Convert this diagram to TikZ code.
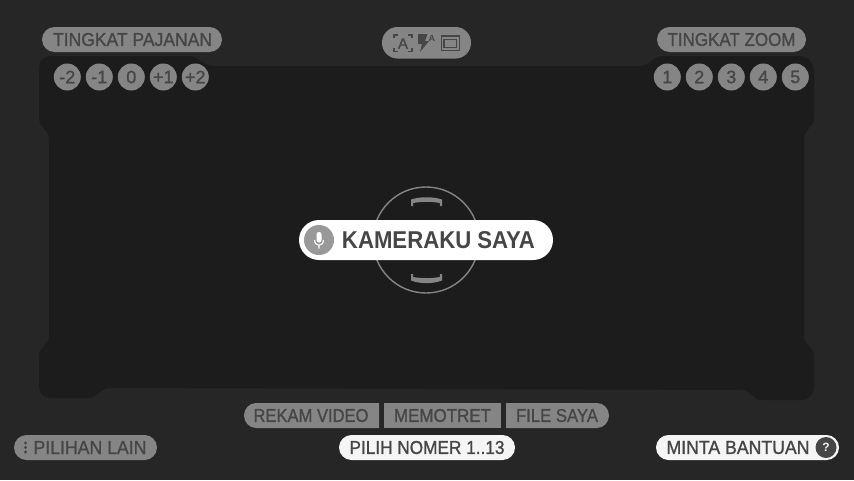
\documentclass[tikz,border=0pt]{standalone}
\usepackage{graphicx}
\usepackage{fontspec}
\setmainfont{Liberation Sans}[FakeBold=1.2]
\newfontfamily\heavyfont{Liberation Sans Bold}
\definecolor{bgc}{HTML}{262626}
\definecolor{darkc}{HTML}{1C1C1C}
\definecolor{pillc}{HTML}{858585}
\definecolor{inkc}{HTML}{464646}
\definecolor{whitec}{HTML}{F5F5F5}
\newcommand{\fitw}[2]{\resizebox{#1pt}{13pt}{#2}}
\tikzset{
  lab/.style={inner sep=0pt,text=inkc,font=\fontsize{18}{20}\selectfont},
  numc/.style={circle,fill=pillc,minimum size=27pt,inner sep=0pt,text=inkc,font=\fontsize{18}{20}\selectfont},
  pill/.style={fill=pillc,rounded corners=12.5pt},
  wpill/.style={fill=whitec,rounded corners=12.5pt},
  ico/.style={draw=inkc,line width=1.5pt},
}
\begin{document}
\begin{tikzpicture}[x=1pt,y=-1pt]
\useasboundingbox (0,0) rectangle (854,480);
\fill[bgc] (0,0) rectangle (854,480);
% dark viewport
\fill[darkc] (39,70) .. controls (39,60) and (44,56) .. (52,56) -- (190,56)
  .. controls (198,56) and (202,66) .. (214,66) -- (640,66)
  .. controls (650,66) and (652,56) .. (664,56) -- (798,56)
  .. controls (808,56) and (814,62) .. (814,72) -- (814,118)
  .. controls (814,128) and (804,128) .. (804,140) -- (804,336)
  .. controls (804,346) and (814,346) .. (814,356) -- (814,386)
  .. controls (814,396) and (808,400) .. (800,400) -- (762,400)
  .. controls (752,400) and (752,390) .. (742,390) -- (110,388)
  .. controls (100,388) and (98,398) .. (88,398) -- (52,398)
  .. controls (44,398) and (39,394) .. (39,384) -- (39,356)
  .. controls (39,346) and (49,346) .. (49,336) -- (49,140)
  .. controls (49,128) and (39,128) .. (39,118) -- cycle;
% top pills
\fill[pill] (42,27) rectangle (222,52);
\node[lab] (expo) at (132.5,39.5) {\fitw{159}{TINGKAT PAJANAN}};
\fill[pill] (657,27) rectangle (806,52);
\node[lab] (zoom) at (731.5,39.5) {\fitw{128}{TINGKAT ZOOM}};
\fill[fill=pillc,rounded corners=15.5pt] (382,27) rectangle (471,58.5);
% icons
\node[inner sep=0pt,text=inkc,font=\fontsize{15}{16}\selectfont] (iconA) at (403,43.5) {A};
\draw[ico,line width=1.7pt] (394,38) -- (394,35) -- (398,35)
  (408,35) -- (412,35) -- (412,38)
  (412,48) -- (412,51.5) -- (408,51.5)
  (398,51.5) -- (394,51.5) -- (394,48);
\fill[inkc] (418,34) -- (427.5,34) -- (425,41) -- (429,41) -- (420,52) -- (422,44) -- (418,44) -- cycle;
\node[inner sep=0pt,text=inkc,font=\heavyfont\fontsize{9}{10}\selectfont] (iconB) at (431.8,38.5) {A};
\draw[ico,line width=1.2pt] (441.5,36) rectangle (459.5,50.5);
\draw[ico,line width=1.6pt] (444,39.5) rectangle (456.5,47.3);
% number circles
\node[numc] (m2) at (67.3,77) {-2};
\node[numc] (m1) at (99.3,77) {-1};
\node[numc] (n0) at (131.3,77) {0};
\node[numc] (p1) at (163.3,77) {+1};
\node[numc] (p2) at (195.3,77) {+2};
\node[numc] (z1) at (667.3,77) {1};
\node[numc] (z2) at (699.3,77) {2};
\node[numc] (z3) at (731.3,77) {3};
\node[numc] (z4) at (763.3,77) {4};
\node[numc] (z5) at (795.3,77) {5};
% centre
\draw[color=pillc,line width=1.4pt] (426,240) circle (53);
\fill[pillc] (411,206) -- (411,199.5) .. controls (420,196.5) and (433,196.5) .. (442,199.5) -- (442,206) -- (439.8,206) -- (439.8,203) .. controls (432,201.5) and (421,201.5) .. (413.2,203) -- (413.2,206) -- cycle;
\fill[pillc] (411,274) -- (411,280.5) .. controls (420,284) and (433,284) .. (442,280.5) -- (442,274) -- (439.8,274) -- (439.8,277) .. controls (432,278.5) and (421,278.5) .. (413.2,277) -- (413.2,274) -- cycle;
\fill[white,rounded corners=20pt] (299,220) rectangle (553,260);
\fill[color=black!40] (319,240) circle (15);
\fill[white,rounded corners=2.4pt] (316.5,232) rectangle (321.5,242.5);
\draw[white,line width=1.1pt] (314.6,240) .. controls (314.6,247) and (323.4,247) .. (323.4,240) (319,245) -- (319,248.5);
\node[inner sep=0pt,text=inkc,font=\heavyfont\fontsize{24}{26}\selectfont] (title) at (438.5,240.5) {\resizebox{193pt}{17pt}{KAMERAKU SAYA}};
% bottom row
\fill[pillc] (256,403) .. controls (249,403) and (244,409) .. (244,415.5) .. controls (244,422) and (249,428) .. (256,428) -- (379,428) -- (379,403) -- cycle;
\node[lab] (video) at (311,415.5) {\fitw{115}{REKAM VIDEO}};
\fill[pillc] (384,403) rectangle (501,428);
\node[lab] (foto) at (442.5,415.5) {\fitw{97}{MEMOTRET}};
\fill[pillc] (506,403) -- (597,403) .. controls (604,403) and (609,409) .. (609,415.5) .. controls (609,422) and (604,428) .. (597,428) -- (506,428) -- cycle;
\node[lab] (file) at (557,415.5) {\fitw{82}{FILE SAYA}};
\fill[wpill] (339,435) rectangle (515,460);
\node[lab] (nomer) at (427,447.5) {\fitw{155}{PILIH NOMER 1..13}};
\fill[pill] (14,435) rectangle (157,460);
\foreach \yy in {443,447.5,452} \fill[inkc] (25.5,\yy) circle (1.7);
\node[lab] (lain) at (90,447.5) {\fitw{113}{PILIHAN LAIN}};
\fill[wpill] (656,435) rectangle (839,460);
\node[lab] (bantu) at (738,447.5) {\fitw{143}{MINTA BANTUAN}};
\node[circle,fill=inkc,minimum size=21pt,inner sep=0pt,text=whitec,font=\heavyfont\fontsize{12}{13}\selectfont] (help) at (826,447.5) {?};
\end{tikzpicture}
\end{document}
